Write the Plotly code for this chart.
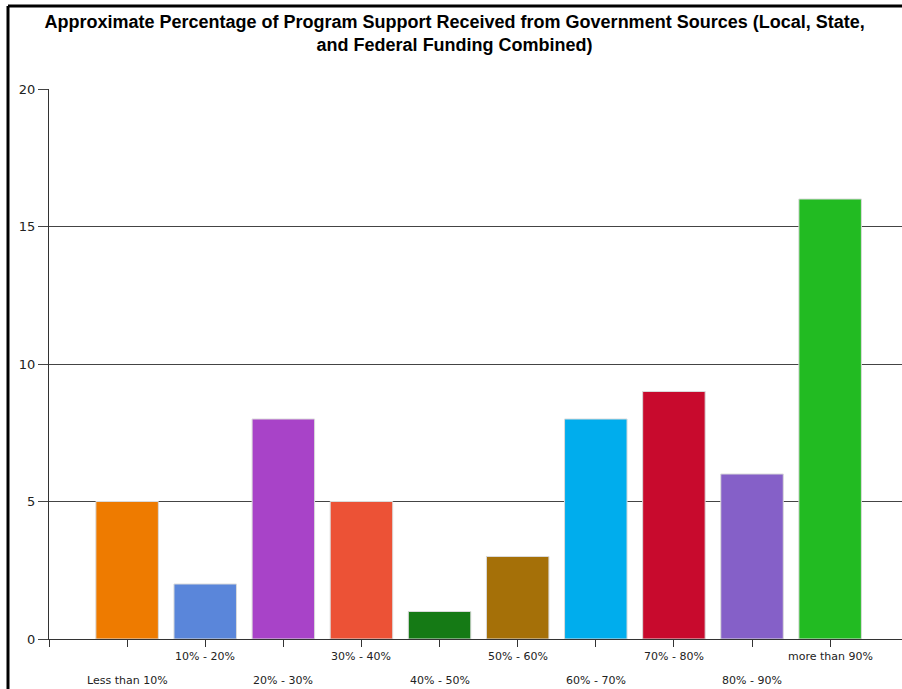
import plotly.graph_objects as go

# Share of program support coming from government sources
categories = ["Less than 10%", "10% - 20%", "20% - 30%", "30% - 40%", "40% - 50%",
              "50% - 60%", "60% - 70%", "70% - 80%", "80% - 90%", "more than 90%"]
counts = [5, 2, 8, 5, 1, 3, 8, 9, 6, 16]
bar_colors = ["#EE7B00", "#5A86DA", "#A843C8", "#EC5236", "#157A15",
              "#A57008", "#00ADED", "#C80A2D", "#8560C8", "#22BB22"]
y_ticks = [0, 5, 10, 15, 20]

positions = list(range(len(categories)))

W, H = 902, 689
L, R, T, B = 49, 0, 89, 50

fig = go.Figure()
fig.add_trace(go.Bar(
    x=positions,
    y=counts,
    width=0.8,
    marker=dict(color=bar_colors, line=dict(color="#DADADA", width=1)),
    hovertext=categories,
    showlegend=False,
))

# category labels alternate between two rows under the axis
for i, name in enumerate(categories):
    fig.add_annotation(
        x=i, y=0, xref="x", yref="y",
        text=name, showarrow=False,
        xanchor="center", yanchor="middle",
        yshift=-17 if i % 2 else -41,
        font=dict(family="DejaVu Sans", size=11, color="#222222"),
    )

pw = W - L - R
ph = H - T - B
# outer frame (left and top edges)
fig.add_shape(type="line", xref="paper", yref="paper",
              x0=(8 - L) / pw, x1=(8 - L) / pw, y0=-2, y1=(H - 6 - B) / ph,
              line=dict(color="#000000", width=3))
fig.add_shape(type="line", xref="paper", yref="paper",
              x0=(8 - L) / pw, x1=1.2, y0=(H - 6 - B) / ph, y1=(H - 6 - B) / ph,
              line=dict(color="#000000", width=3))

fig.update_layout(
    width=W, height=H,
    margin=dict(l=L, r=R, t=T, b=B, pad=0),
    paper_bgcolor="white", plot_bgcolor="white",
    title=dict(
        text="Approximate Percentage of Program Support Received from Government Sources (Local, State,<br>and Federal Funding Combined)",
        x=0.504, xanchor="center", y=1 - 28 / H, yanchor="middle",
        font=dict(family="Liberation Sans Narrow, Liberation Sans", size=18, color="#000000", weight="bold"),
    ),
    bargap=0.2,
)
fig.update_xaxes(
    range=[-1, 9.92],
    tickmode="array", tickvals=[-1] + positions,
    showticklabels=False,
    ticks="outside", ticklen=7, tickcolor="#333333", tickwidth=1,
    showline=True, linecolor="#333333", linewidth=1,
    showgrid=False, zeroline=False,
)
fig.update_yaxes(
    range=[0, 20],
    tickmode="array", tickvals=y_ticks,
    ticks="outside", ticklen=10, tickcolor="#444444", tickwidth=1,
    tickfont=dict(family="DejaVu Sans", size=13, color="#222222"),
    showline=True, linecolor="#333333", linewidth=1,
    showgrid=True, gridcolor="#444444", gridwidth=1,
    zeroline=False,
)

fig.write_html("out.html")
